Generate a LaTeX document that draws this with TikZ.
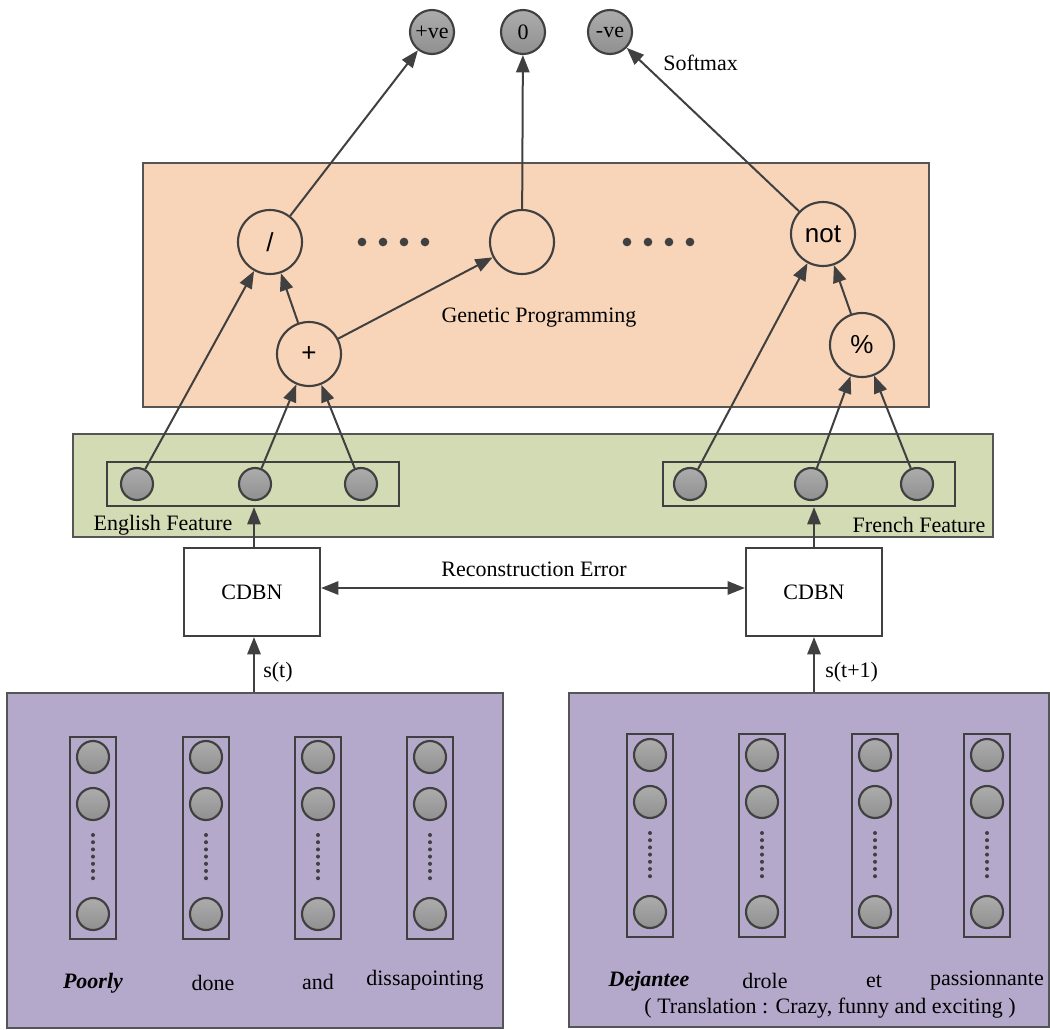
\documentclass[tikz,border=0pt]{standalone}
\usepackage{fontspec}
\setmainfont{Liberation Serif}
\newfontfamily\opfont{Liberation Sans}
\usetikzlibrary{arrows.meta,fit,shapes.geometric}
\definecolor{gpfill}{HTML}{F8D5B8}
\definecolor{featfill}{HTML}{D3DBB4}
\definecolor{wordfill}{HTML}{B5A9CB}
\definecolor{edgecol}{HTML}{404040}
\definecolor{boxcol}{HTML}{555555}
\definecolor{ctop}{HTML}{ACACAC}
\definecolor{cbot}{HTML}{909090}
\tikzset{
  txt/.style={font=\fontsize{16.5}{19}\selectfont, inner sep=0pt},
  panel/.style={draw=boxcol, line width=1.1pt, inner sep=0pt},
  gpnode/.style={circle, draw=edgecol, line width=1.6pt, minimum size=48pt, inner sep=0pt, font=\opfont\fontsize{19.5}{21}\selectfont},
  outnode/.style={circle, draw=edgecol, line width=1.6pt, top color=ctop, bottom color=cbot, minimum size=33pt, inner sep=0pt, font=\fontsize{16.5}{19}\selectfont},
  unit/.style={circle, draw=edgecol, line width=1.6pt, top color=ctop, bottom color=cbot, minimum size=24pt, inner sep=0pt},
  vecbox/.style={draw=edgecol, line width=1.6pt, inner sep=0pt},
  cdbn/.style={draw=edgecol, line width=1.6pt, fill=white, minimum width=102pt, minimum height=66pt, inner sep=0pt, font=\fontsize{16.5}{19}\selectfont},
  tip/.tip={Triangle[length=13pt,width=10pt]},
  conn/.style={draw=edgecol, line width=1.5pt, -tip},
  plain/.style={draw=edgecol, line width=1.5pt},
  bigdot/.style={circle, fill=edgecol, minimum size=6.5pt, inner sep=0pt},
  smalldot/.style={circle, fill=edgecol, minimum size=3pt, inner sep=0pt},
}
\begin{document}
\begin{tikzpicture}[x=0.75pt,y=-0.75pt]
\useasboundingbox (0,0) rectangle (1050,1029);

% panels
\node[panel, fill=gpfill, fit={(143,163) (929,407)}] (gp) {};
\node[panel, fill=featfill, fit={(73,434) (993,537)}] (feat) {};
\node[panel, fill=wordfill, fit={(7,693) (503,1028)}] (wl) {};
\node[panel, fill=wordfill, fit={(569,693) (1049,1027)}] (wr) {};

% outputs
\node[outnode] (pos) at (432,32) {+ve};
\node[outnode] (zero) at (523,32) {0};
\node[outnode] (neg) at (610,32) {-ve};
\node[txt, anchor=west] (softmax) at (663,63) {Softmax};

% GP nodes
\node[gpnode] (div) at (270,242) {/};
\node[gpnode] (mid) at (522,242) {};
\node[gpnode] (plus) at (309,354) {+};
\node[gpnode] (not) at (823,234) {not};
\node[gpnode] (pct) at (862,345) {\%};
\node[txt] (gplabel) at (539,318) {Genetic Programming};
\foreach \x [count=\i] in {362,383,404,425} \node[bigdot] (da\i) at (\x,242) {};
\foreach \x [count=\i] in {627,648,669,690} \node[bigdot] (db\i) at (\x,242) {};

% feature vectors
\node[vecbox, fit={(107,462) (399,506)}] (eng) {};
\node[vecbox, fit={(663,462) (955,506)}] (fre) {};
\node[unit] (e1) at (137,484) {};
\node[unit] (e2) at (255,484) {};
\node[unit] (e3) at (361,484) {};
\node[unit] (f1) at (690,484) {};
\node[unit] (f2) at (811,484) {};
\node[unit] (f3) at (917,484) {};
\node[txt] (englab) at (163,525) {English Feature};
\node[txt] (frelab) at (919,525) {French Feature};

% CDBN
\node[cdbn] (cl) at (252,592) {CDBN};
\node[cdbn] (cr) at (814,592) {CDBN};
\node[txt] (recon) at (534,569) {Reconstruction Error};
\draw[plain, tip-tip] (cl.east |- 0,588) -- (cr.west |- 0,588);
\draw[conn] (cl.north -| 254,0) -- (eng.south -| 254,0);
\draw[conn] (cr.north) -- (fre.south -| cr.north);
\draw[conn] (wl.north -| 254,0) -- (cl.south -| 254,0);
\draw[conn] (wr.north -| cr.south) -- (cr.south);
\node[txt, anchor=west] (st) at (263,672) {s(t)};
\node[txt, anchor=west] (st1) at (825,672) {s(t+1)};

% GP edges
\draw[conn] (e1) -- (div);
\draw[conn] (e2) -- (plus);
\draw[conn] (e3) -- (plus);
\draw[conn] (plus) -- (div);
\draw[conn] (plus) -- (mid);
\draw[conn] (div) -- (pos);
\draw[conn] (mid) -- (zero);
\draw[conn] (not) -- (neg);
\draw[conn] (f1) -- (not);
\draw[conn] (f2) -- (pct);
\draw[conn] (f3) -- (pct);
\draw[conn] (pct) -- (not);

% word vectors
\foreach \x/\n in {93/l1,206/l2,318/l3,430/l4} {
  \node[vecbox, fit={(\x-23,737) (\x+23,939)}] (v\n) {};
  \node[unit] (\n a) at (\x,757) {};
  \node[unit] (\n b) at (\x,804) {};
  \node[unit] (\n c) at (\x,914) {};
  \foreach \k in {0,...,6} \node[smalldot] (\n d\k) at (\x,835+7.2*\k) {};
}
\foreach \x/\n in {650/r1,762/r2,875/r3,987/r4} {
  \node[vecbox, fit={(\x-23,734) (\x+23,937)}] (v\n) {};
  \node[unit] (\n a) at (\x,755) {};
  \node[unit] (\n b) at (\x,802) {};
  \node[unit] (\n c) at (\x,912) {};
  \foreach \k in {0,...,6} \node[smalldot] (\n d\k) at (\x,833+7.2*\k) {};
}
\node[txt] (w1) at (93,983) {\textbf{\textit{Poorly}}};
\node[txt] (w2) at (213,983) {done};
\node[txt] (w3) at (318,982) {and};
\node[txt] (w4) at (425,980) {dissapointing};
\node[txt] (x1) at (649,981) {\textbf{\textit{Dejantee}}};
\node[txt] (x2) at (765,981) {drole};
\node[txt] (x3) at (874,981) {et};
\node[txt] (x4) at (987,981) {passionnante};
\node[txt] (tr) at (830,1008) {( Translation : Crazy, funny and exciting )};
\end{tikzpicture}
\end{document}
